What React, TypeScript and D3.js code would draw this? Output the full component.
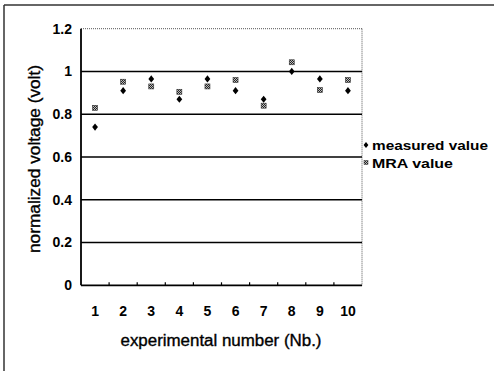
import React from "react";
import * as d3 from "d3";

const categories = ["1", "2", "3", "4", "5", "6", "7", "8", "9", "10"];
const measuredValues = [0.74, 0.91, 0.965, 0.87, 0.965, 0.91, 0.87, 1.0, 0.965, 0.91];
const mraValues = [0.83, 0.952, 0.93, 0.905, 0.93, 0.96, 0.84, 1.043, 0.913, 0.96];
const yTicks = [0, 0.2, 0.4, 0.6, 0.8, 1, 1.2];
const yTickLabels = ["0", "0.2", "0.4", "0.6", "0.8", "1", "1.2"];
const gridValues = [0.2, 0.4, 0.6, 0.8, 1.0];
const seriesNames = ["measured value", "MRA value"];

const W = 494;
const H = 371;
const plot = { left: 81, right: 362, top: 28.7, bottom: 285.3 };
const FONT = "'Liberation Sans Narrow', 'Liberation Sans', Arial, sans-serif";

export default function App() {
  const x = d3.scaleBand<string>().domain(categories).range([plot.left, plot.right]);
  const y = d3.scaleLinear().domain([0, 1.2]).range([plot.bottom, plot.top]);
  const diamond = (cx: number, cy: number, r: number) =>
    `M${cx},${cy - r}L${cx + r * 0.8},${cy}L${cx},${cy + r}L${cx - r * 0.8},${cy}Z`;

  return (
    <svg
      width={W}
      height={H}
      style={{ position: "absolute", left: 0, top: 0, background: "#fff" }}
      fontFamily={FONT}
    >
      <defs>
        <pattern id="hatch" width="2" height="2" patternUnits="userSpaceOnUse">
          <rect width="2" height="2" fill="#bbb" />
          <rect width="1" height="1" fill="#222" />
          <rect x="1" y="1" width="1" height="1" fill="#222" />
        </pattern>
      </defs>
      {/* outer frame */}
      <line x1={4} x2={W} y1={5} y2={5} stroke="#333" strokeWidth={1.5} />
      <line x1={4} x2={4} y1={5} y2={H} stroke="#333" strokeWidth={1.5} />

      {/* plot border dotted */}
      <line x1={plot.left} x2={plot.right} y1={plot.top} y2={plot.top} stroke="#555" strokeWidth={1} strokeDasharray="1,1" />
      <line x1={plot.right} x2={plot.right} y1={plot.top} y2={plot.bottom} stroke="#555" strokeWidth={1} strokeDasharray="1,1" />

      {/* gridlines */}
      {gridValues.map((v) => (
        <line key={v} x1={plot.left} x2={plot.right} y1={y(v)} y2={y(v)} stroke="#000" strokeWidth={1.6} />
      ))}

      {/* axes */}
      <line x1={plot.left} x2={plot.left} y1={plot.top} y2={plot.bottom} stroke="#000" strokeWidth={1.8} />
      <line x1={plot.left} x2={plot.right} y1={plot.bottom} y2={plot.bottom} stroke="#000" strokeWidth={1.8} />
      {categories.slice(1).map((c) => (
        <line key={c} x1={x(c)!} x2={x(c)!} y1={plot.bottom} y2={plot.bottom - 3} stroke="#000" strokeWidth={1.2} />
      ))}

      {/* y tick labels */}
      {yTicks.map((t, i) => (
        <text key={t} x={72} y={y(t)} dy="0.35em" textAnchor="end" fontSize={14} fontWeight="bold">
          {yTickLabels[i]}
        </text>
      ))}
      {/* x tick labels */}
      {categories.map((c) => (
        <text key={c} x={x(c)! + x.bandwidth() / 2} y={311} dy="0.35em" textAnchor="middle" fontSize={14} fontWeight="bold">
          {c}
        </text>
      ))}

      {/* titles */}
      <text x={221} y={340} dy="0.35em" textAnchor="middle" fontSize={16} textLength={201} lengthAdjust="spacingAndGlyphs" stroke="#000" strokeWidth={0.35}>
        experimental number (Nb.)
      </text>
      <text
        transform={`translate(34,159) rotate(-90)`}
        dy="0.35em"
        textAnchor="middle"
        fontSize={16}
        textLength={188}
        lengthAdjust="spacingAndGlyphs"
        stroke="#000"
        strokeWidth={0.35}
      >
        normalized voltage (volt)
      </text>

      {/* MRA squares */}
      {mraValues.map((v, i) => {
        const cx = x(categories[i])! + x.bandwidth() / 2;
        return <rect key={"m" + i} x={cx - 2.5} y={y(v) - 2.5} width={5} height={5} fill="url(#hatch)" stroke="#333" strokeWidth={0.6} />;
      })}
      {/* measured diamonds */}
      {measuredValues.map((v, i) => {
        const cx = x(categories[i])! + x.bandwidth() / 2;
        return <path key={"d" + i} d={diamond(cx, y(v), 3.6)} fill="#000" />;
      })}

      {/* legend */}
      <path d={diamond(366, 145, 3)} fill="#000" />
      <text x={372} y={145} dy="0.35em" fontSize={13} fontWeight="bold" textLength={116} lengthAdjust="spacingAndGlyphs">
        {seriesNames[0]}
      </text>
      <rect x={364} y={160.5} width={4} height={4} fill="url(#hatch)" stroke="#333" strokeWidth={0.5} />
      <text x={372} y={163} dy="0.35em" fontSize={13} fontWeight="bold" textLength={81} lengthAdjust="spacingAndGlyphs">
        {seriesNames[1]}
      </text>
    </svg>
  );
}
